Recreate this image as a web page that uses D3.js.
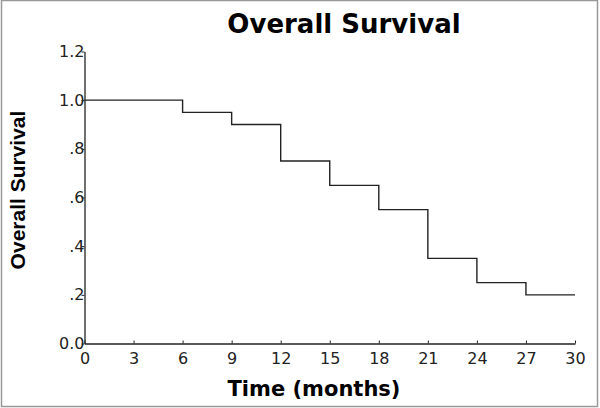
<!DOCTYPE html>
<html><head><meta charset="utf-8">
<script src="https://cdn.jsdelivr.net/npm/d3@7"></script>
<style>body{margin:0;background:#fff}svg{display:block}</style>
</head><body><svg id="c" width="600" height="408"></svg>
<script>
const times = [0, 6, 9, 12, 15, 18, 21, 24, 27, 30];
const survival = [1.0, 0.95, 0.9, 0.75, 0.65, 0.55, 0.35, 0.25, 0.2, 0.2];
const xTicks = [0, 3, 6, 9, 12, 15, 18, 21, 24, 27, 30];
const yTicks = [0, 0.2, 0.4, 0.6, 0.8, 1.0, 1.2];
const yTickLabels = ["0.0", ".2", ".4", ".6", ".8", "1.0", "1.2"];
const title = "Overall Survival";
const xTitle = "Time (months)";
const yTitle = "Overall Survival";

const svg = d3.select("#c");
svg.append("rect").attr("x",1.5).attr("y",0.5).attr("width",596).attr("height",406)
  .attr("fill","#fff").attr("stroke","#999").attr("stroke-width",1.5);

const x = d3.scaleLinear().domain([0,30]).range([84.5,575]);
const y = d3.scaleLinear().domain([0,1.2]).range([343.5,51.5]);

const fontT = "DejaVu Sans, Verdana, sans-serif";
// x axis
const gx = svg.append("g").attr("transform",`translate(0,${y(0)})`)
  .call(d3.axisBottom(x).tickValues(xTicks).tickSizeInner(-3).tickSizeOuter(0).tickPadding(9));
gx.select(".domain").attr("stroke","#222").attr("stroke-width",1.3);
gx.selectAll(".tick line").attr("stroke","#222");
gx.selectAll(".tick text").attr("font-family",fontT).attr("font-size",16).attr("fill","#222");

const gy = svg.append("g").attr("transform",`translate(${x(0)},0)`)
  .call(d3.axisLeft(y).tickValues(yTicks).tickFormat((d,i)=>yTickLabels[i]).tickSizeInner(3).tickSizeOuter(0).tickPadding(-3));
gy.select(".domain").attr("stroke","#222").attr("stroke-width",1.3);
gy.selectAll(".tick line").attr("stroke","#222");
gy.selectAll(".tick text").attr("font-family",fontT).attr("font-size",16).attr("fill","#222");

// step line
const pts = times.map((t,i)=>[t,survival[i]]);
const line = d3.line().x(d=>x(d[0])).y(d=>y(d[1])).curve(d3.curveStepAfter);
svg.append("path").datum(pts).attr("d",line).attr("fill","none")
  .attr("stroke","#222").attr("stroke-width",1.4);

svg.append("text").attr("x",344).attr("y",33).attr("text-anchor","middle")
  .attr("font-family",fontT).attr("font-weight","bold").attr("font-size",26).attr("fill","#000").text(title);
svg.append("text").attr("x",314).attr("y",396).attr("text-anchor","middle")
  .attr("font-family",fontT).attr("font-weight","bold").attr("font-size",21).attr("fill","#000").text(xTitle);
svg.append("text").attr("transform","translate(25,190) rotate(-90)").attr("text-anchor","middle")
  .attr("font-family","Liberation Sans, Arial, sans-serif").attr("font-weight","bold").attr("font-size",21).attr("fill","#000").text(yTitle);
</script></body></html>
